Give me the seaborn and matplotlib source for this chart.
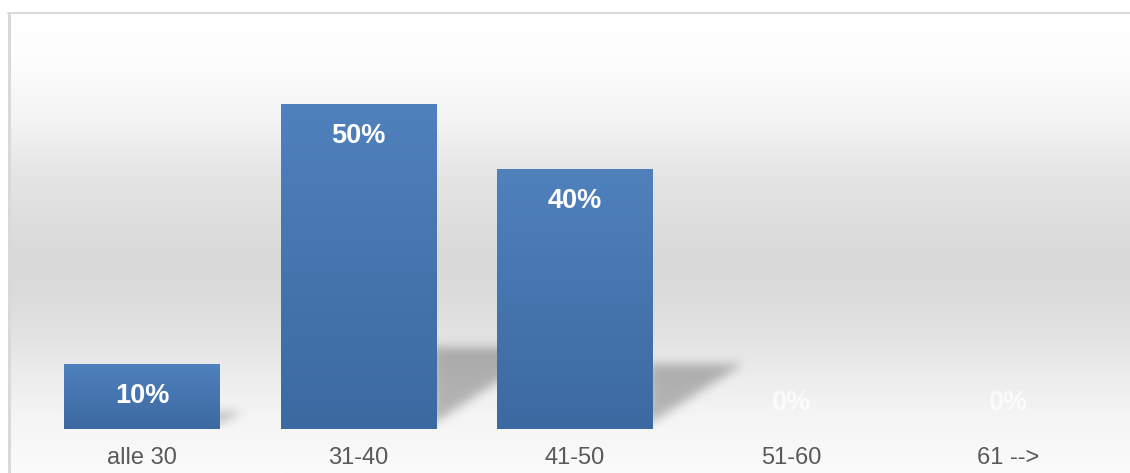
import numpy as np
import matplotlib
matplotlib.use("Agg")
import matplotlib.pyplot as plt
import seaborn as sns
from matplotlib.path import Path

categories = ["alle 30", "31-40", "41-50", "51-60", "61 -->"]
values = [10, 50, 40, 0, 0]
labels = ["10%", "50%", "40%", "0%", "0%"]

sns.set_theme(style="white")
plt.rcParams['font.family'] = ['Liberation Sans', 'DejaVu Sans']

W, H = 1130, 473
fig = plt.figure(figsize=(W / 100, H / 100), dpi=100)
fig.patch.set_facecolor("white")

# background frame with vertical gradient
bg = fig.add_axes([8 / W, 0, 1 - 8 / W, 460 / H])
rows = np.arange(13, 474)
kp = [13, 60, 120, 180, 260, 300, 340, 380, 420, 473]
kv = [255, 253, 244, 228, 217, 220, 227, 237, 245, 251]
g = np.interp(rows, kp, kv) / 255.0
img = np.repeat(g[:, None], 2, axis=1)
bg.imshow(np.dstack([img, img, img]), aspect="auto", extent=[0, 1, 0, 1], interpolation="bilinear")
bg.set_xlim(0, 1)
bg.set_ylim(0, 1)
bg.set_axis_off()
fig.add_artist(plt.Line2D([9 / W, 9 / W], [0, 460 / H], color="#d9d9d9", lw=2.2))
fig.add_artist(plt.Line2D([8 / W, 1], [460 / H, 460 / H], color="#d9d9d9", lw=1.4))

# main axes
ax = fig.add_axes([8 / W, 44 / H, 1 - 8 / W, 416 / H])
ax.patch.set_alpha(0)
sns.barplot(x=categories, y=values, width=0.716, color="#4a7ab5", saturation=1,
            linewidth=0, edgecolor="none", ax=ax, zorder=3)
ax.set_xlim((8 - 142) / 216.5, (1130 - 142) / 216.5)
ax.set_ylim(0, 64)
for s in ax.spines.values():
    s.set_visible(False)
ax.set_yticks([])
ax.set_xlabel("")
ax.set_ylabel("")
ax.tick_params(axis="x", length=0, pad=13, labelsize=17, labelcolor="#595959")

# bar gradients
top = np.array([0x4f, 0x81, 0xbd]) / 255
bot = np.array([0x3c, 0x69, 0xa0]) / 255
t = np.linspace(0, 1, 256)[:, None]
grad = (top[None, :] * (1 - t) + bot[None, :] * t)[:, None, :]
for p in ax.patches:
    x0, y0 = p.get_x(), p.get_y()
    w, h = p.get_width(), p.get_height()
    if h <= 0:
        continue
    im = ax.imshow(grad, aspect="auto", extent=[x0, x0 + w, y0, y0 + h],
                   interpolation="bilinear", zorder=4)
    im.set_clip_path(p)

# shadows (blurred triangles to the right of each bar)
xl = ax.get_xlim()
yl = ax.get_ylim()
nx, ny = 1122, 416
xs = np.linspace(xl[0], xl[1], nx)
ys = np.linspace(yl[1], yl[0], ny)
XX, YY = np.meshgrid(xs, ys)
pts = np.column_stack([XX.ravel(), YY.ravel()])
mask = np.zeros(nx * ny)
for p, v in zip(ax.patches, values):
    if v <= 0:
        continue
    R = p.get_x() + p.get_width()
    poly = Path([(R - 0.02, 0.6), (R - 0.02, 0.25 * v), (R + 0.0105 * v, 0.25 * v), (R - 0.02, 0.6)])
    mask = np.maximum(mask, poly.contains_points(pts).astype(float))
mask = mask.reshape(ny, nx)


def blur(a, s):
    k = np.exp(-0.5 * (np.arange(-3 * s, 3 * s + 1) / s) ** 2)
    k /= k.sum()
    a = np.apply_along_axis(lambda r: np.convolve(r, k, mode="same"), 1, a)
    a = np.apply_along_axis(lambda c: np.convolve(c, k, mode="same"), 0, a)
    return a


mask = blur(mask, 5)
sh = np.zeros((ny, nx, 4))
sh[..., 3] = np.clip(mask * 0.26, 0, 1)
ax.imshow(sh, aspect="auto", extent=[xl[0], xl[1], yl[0], yl[1]], zorder=2, interpolation="bilinear")
ax.set_xlim(xl)
ax.set_ylim(yl)

# data labels
for i, (v, lab) in enumerate(zip(values, labels)):
    if v > 0:
        ax.annotate(lab, (i, v), xytext=(0, -32 * 0.72), textcoords="offset points",
                    ha="center", va="center", color="white", fontsize=19.5,
                    fontweight="bold", zorder=6)
    else:
        ax.annotate(lab, (i, v), xytext=(0, 26 * 0.72), textcoords="offset points",
                    ha="center", va="center", color="white", alpha=0.75, fontsize=19.5,
                    fontweight="bold", zorder=6)

fig.savefig("out.png", dpi=100)
